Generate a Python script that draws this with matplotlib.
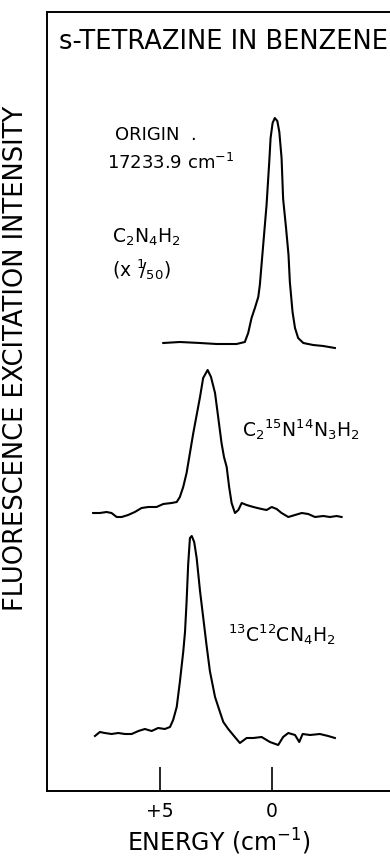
import matplotlib
matplotlib.use("Agg")
import matplotlib.pyplot as plt

# Energy relative to origin (cm^-1), intensity in arbitrary units (traces stacked)
# --- C2N4H2 (x 1/50) ---
e_main = [4.85, 4.11, 3.21, 2.47, 1.58, 1.21, 1.06, 0.91, 0.76, 0.61, 0.54, 0.39,
          0.24, 0.12, 0.06, -0.03, -0.13, -0.24, -0.33, -0.43, -0.50, -0.63, -0.74,
          -0.80, -0.92, -1.03, -1.17, -1.40, -1.84, -2.29, -2.81]
i_main = [448, 449, 448, 447, 447, 449, 458, 473, 483, 494, 506, 546,
          586, 629, 653, 668, 673, 670, 659, 633, 592, 563, 536,
          509, 479, 463, 453, 448, 446, 445, 443]

# --- C2 15N 14N3 H2 ---
e_n15 = [7.98, 7.68, 7.38, 7.16, 6.93, 6.71, 6.42, 6.12, 5.82, 5.52, 5.15, 4.85,
         4.48, 4.25, 4.11, 3.96, 3.81, 3.66, 3.51, 3.36, 3.21, 3.07, 2.87, 2.72,
         2.54, 2.40, 2.25, 2.14, 2.02, 1.91, 1.80, 1.65, 1.50, 1.35, 1.13, 0.83,
         0.46, 0.24, 0.01, -0.21, -0.43, -0.73, -1.03, -1.33, -1.62, -1.92,
         -2.29, -2.59, -2.89, -3.11]
i_n15 = [278, 278, 279, 278, 274, 274, 276, 279, 283, 284, 284, 287,
         288, 289, 294, 304, 318, 338, 358, 376, 394, 413, 421, 414,
         398, 374, 348, 334, 324, 304, 288, 278, 281, 288, 286, 284,
         282, 281, 284, 282, 278, 274, 276, 278, 277, 274,
         275, 274, 275, 274]

# --- 13C 12C N4 H2 ---
e_c13 = [7.90, 7.68, 7.46, 7.16, 6.86, 6.56, 6.26, 5.96, 5.67, 5.37, 5.08, 4.78,
         4.55, 4.41, 4.25, 4.11, 3.96, 3.88, 3.81, 3.74, 3.66, 3.58, 3.47, 3.36,
         3.21, 3.07, 2.92, 2.77, 2.54, 2.32, 2.17, 1.95, 1.73, 1.43, 1.13, 0.83,
         0.46, 0.09, -0.28, -0.50, -0.73, -1.03, -1.22, -1.37, -1.70, -2.14,
         -2.51, -2.81]
i_c13 = [55, 59, 58, 57, 58, 57, 57, 60, 62, 60, 63, 62,
         64, 71, 84, 109, 139, 159, 189, 226, 253, 255, 249, 233,
         200, 174, 146, 120, 94, 79, 69, 62, 56, 48, 53, 53,
         54, 49, 46, 54, 58, 56, 49, 57, 56, 57,
         55, 53]

tick_pos = [5, 0]
tick_lab = ["+5", "0"]

fig = plt.figure(figsize=(3.9, 8.57), dpi=100)
ax = fig.add_axes([47 / 390, 66 / 857, 343 / 390, 779 / 857])

for e, i in [(e_main, i_main), (e_n15, i_n15), (e_c13, i_c13)]:
    ax.plot(e, i, color="black", lw=1.5)

ax.set_xlim(10.04, -5.27)
ax.set_ylim(0, 779)
ax.spines["right"].set_visible(False)
for s in ("left", "top", "bottom"):
    ax.spines[s].set_linewidth(1.4)
ax.set_yticks([])
ax.set_xticks(tick_pos)
ax.set_xticklabels(tick_lab, fontsize=13.5)
ax.tick_params(axis="x", direction="in", length=17, width=1.2, pad=8)
ax.set_xlabel("ENERGY (cm$^{-1}$)", fontsize=17, labelpad=4)

fig.text(16 / 390, 1 - 358 / 857, "FLUORESCENCE EXCITATION INTENSITY",
         rotation=90, ha="center", va="center", fontsize=18.5)

ax.text(9.5, 749, "s-TETRAZINE IN BENZENE", fontsize=18.5, ha="left", va="center")
ax.text(7.01, 656, "ORIGIN  .", fontsize=13, ha="left", va="center")
ax.text(7.37, 628, "17233.9 cm$^{-1}$", fontsize=13, ha="left", va="center")
ax.text(7.14, 554, "C$_2$N$_4$H$_2$", fontsize=13.5, ha="left", va="center")
ax.text(7.14, 521, "(x $^1\\!\\!/_{50}$)", fontsize=13.5, ha="left", va="center")
ax.text(1.34, 361, "C$_2$$^{15}$N$^{14}$N$_3$H$_2$", fontsize=13.5, ha="left", va="center")
ax.text(1.96, 156, "$^{13}$C$^{12}$CN$_4$H$_2$", fontsize=13.5, ha="left", va="center")

plt.savefig("out.png", dpi=100)
